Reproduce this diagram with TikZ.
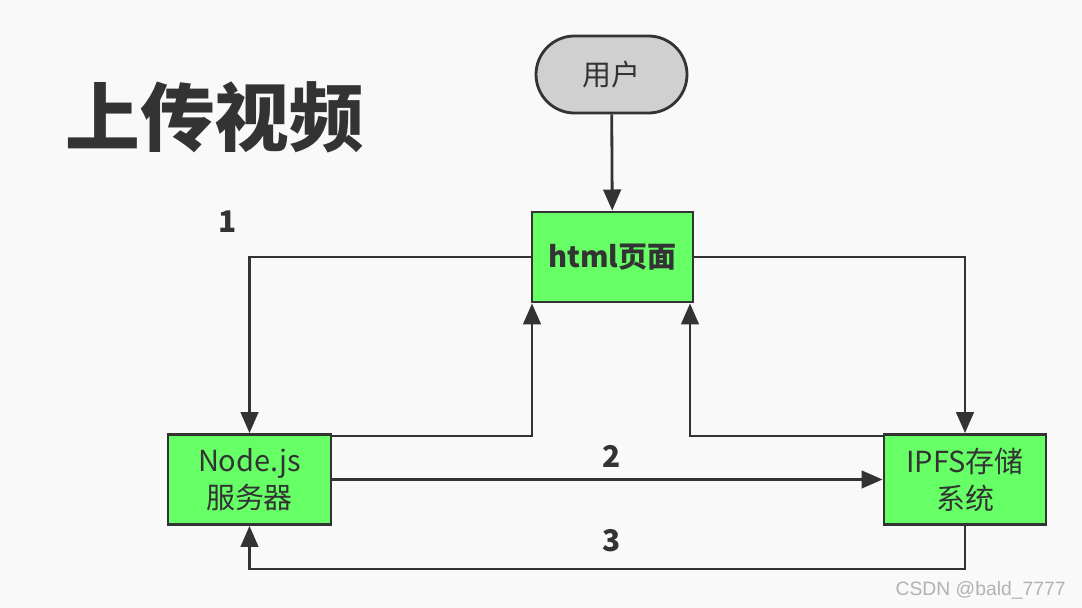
\documentclass[tikz,border=0pt]{standalone}
\usepackage{fontspec}
\setmainfont{Noto Sans CJK SC}
\newfontfamily\wmfont{Liberation Sans}
\usetikzlibrary{arrows.meta,shapes.misc}
\definecolor{ink}{HTML}{333333}
\definecolor{bg}{HTML}{F9F9F9}
\definecolor{boxgreen}{HTML}{66FF66}
\definecolor{usergray}{HTML}{D0D0D0}
\tikzset{
  px/.style={x=0.02cm,y=-0.02cm},
  flowbox/.style={draw=ink,line width=1.6pt,fill=boxgreen,text=ink,
    minimum width=161*0.02cm,minimum height=90*0.02cm,inner sep=0pt,
    align=center,font=\fontsize{16.5}{21}\selectfont},
  userbox/.style={draw=ink,line width=1.6pt,fill=usergray,text=ink,
    rounded rectangle,minimum width=151*0.02cm,minimum height=77*0.02cm,inner sep=0pt,
    font=\fontsize{16.5}{20}\selectfont},
  conn/.style={draw=ink,line width=1.6pt,-{Triangle[length=12pt,width=10pt]}},
  steplabel/.style={text=ink,font=\bfseries\fontsize{17}{20}\selectfont,inner sep=0pt},
}
\begin{document}
\begin{tikzpicture}[px]
\fill[bg] (0,0) rectangle (1082,608);
\useasboundingbox (0,0) rectangle (1082,608);
\node[text=ink,font=\bfseries\fontsize{42.5}{48}\selectfont,anchor=west,inner sep=0pt] (title) at (65,117) {上传视频};
\node[userbox] (user) at (611.5,74.5) {用户};
\node[flowbox,font=\bfseries\fontsize{16.5}{21}\selectfont] (html) at (612.5,257) {html页面};
\node[flowbox,minimum width=163*0.02cm] (node) at (249.5,479.5) {Node.js\\服务器};
\node[flowbox,minimum width=162*0.02cm] (ipfs) at (965,479.5) {IPFS存储\\系统};
\coordinate (nodeR1) at (node.east |- 0,436);
\coordinate (ipfsL1) at (ipfs.west |- 0,436);
\coordinate (htmlB1) at (html.south -| 532,0);
\coordinate (htmlB2) at (html.south -| 690,0);
\coordinate (bot) at (0,569);
\draw[conn] (user) -- (html);
\draw[conn] (html.west) -| (node.north);
\draw[conn] (html.east) -| (ipfs.north);
\draw[conn] (nodeR1) -| (htmlB1);
\draw[conn] (ipfsL1) -| (htmlB2);
\draw[conn] (node.east) -- (ipfs.west);
\draw[conn] (ipfs.south) |- (bot -| node.south) -- (node.south);
\node[steplabel] (l1) at (228,222) {1};
\node[steplabel] (l2) at (612,456) {2};
\node[steplabel] (l3) at (612,541) {3};
\node[anchor=east,text=gray!60,font=\wmfont\fontsize{11}{13}\selectfont,inner sep=0pt] (wm) at (1066,590) {CSDN @bald\_7777};
\end{tikzpicture}
\end{document}
